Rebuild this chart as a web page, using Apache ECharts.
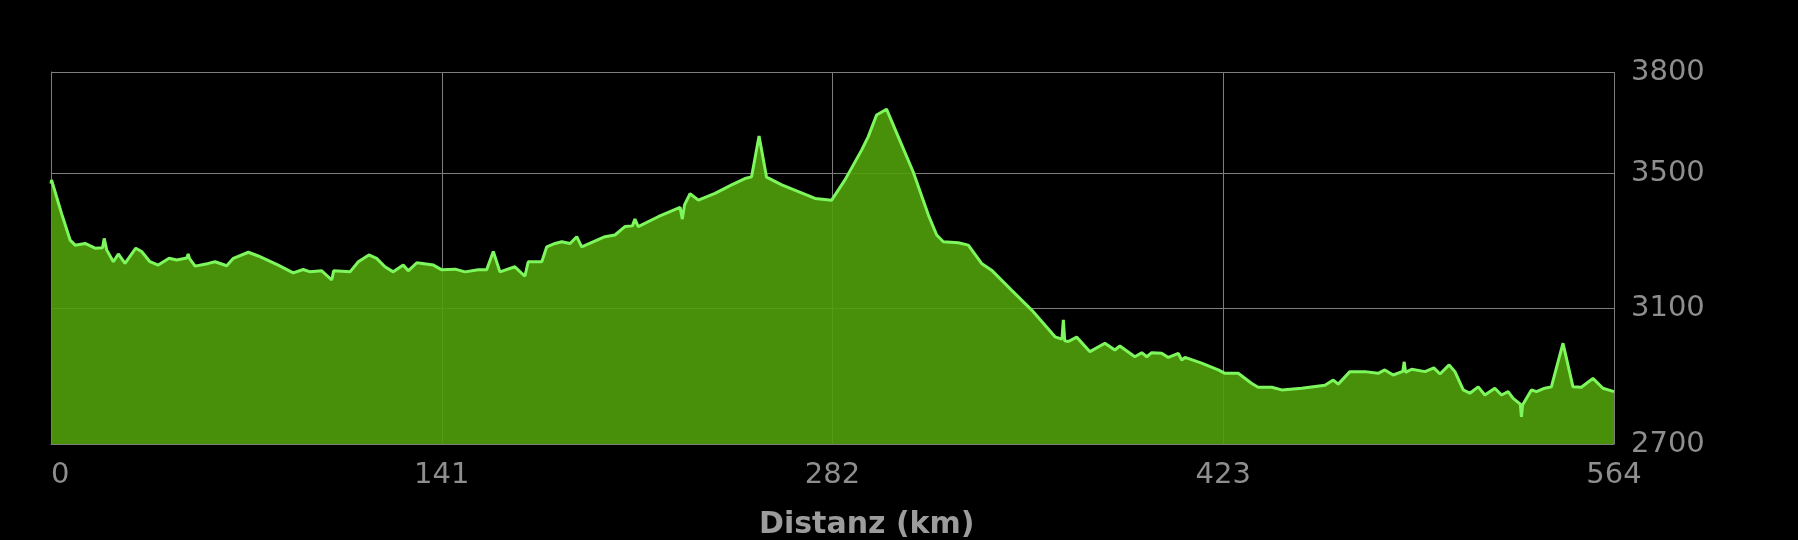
<!DOCTYPE html>
<html>
<head>
<meta charset="utf-8">
<script src="https://cdn.jsdelivr.net/npm/echarts@6/dist/echarts.min.js"></script>
<style>
html,body{margin:0;padding:0;background:#000;}
#chart{width:1798px;height:540px;}
</style>
</head>
<body>
<div id="chart"></div>
<script>
// Distance along route (km)
const distanceKm = [0, 0.2, 2.0, 3.8, 6.9, 8.7, 12.3, 15.9, 18.6, 19.2, 20.1, 22.5, 24.3, 26.7, 30.6, 32.7, 35.7, 38.7, 42.6, 45.4, 49.0, 49.5, 50.0, 52.0, 56.8, 59.2, 63.4, 65.8, 71.2, 74.8, 82.0, 87.4, 91.0, 93.5,
  97.7, 101.3, 102.0, 107.9, 110.9, 114.7, 117.5, 120.5, 123.5, 127.1, 128.9, 132.0, 138.0, 141.0, 145.8, 149.4, 154.2, 157.2, 159.6, 162.0, 167.4, 171.0, 172.2, 177.1, 178.9, 181.9, 184.3, 187.3,
  189.7, 191.5, 199.9, 203.5, 207.1, 209.8, 210.7, 211.9, 219.1, 227.0, 227.8, 228.6, 230.6, 233.6, 239.6, 245.6, 250.4, 252.8, 255.5, 258.2, 263.7, 269.7, 275.7, 281.7,
  286.5, 292.5, 294.9, 297.9, 301.5, 305.7, 311.1, 316.6, 319.6, 322.0, 327.4, 331.0, 335.8, 339.4, 346.6, 353.9, 362.3, 364.8, 365.3, 365.8, 367.1, 370.1, 374.9,
  380.3, 383.9, 385.7, 391.1, 393.6, 395.4, 397.2, 400.8, 403.2, 406.8, 408.0, 409.2, 415.2, 421.2, 423.6, 428.4, 433.3, 435.6, 440.5, 444.1, 451.3, 459.7, 462.7, 464.5, 468.7,
  474.1, 478.9, 481.3, 484.3, 487.8, 488.3, 488.8, 491.0, 495.8, 499.0, 501.2, 504.5, 506.6, 509.6, 512.0, 515.0, 517.4, 521.0, 523.4, 525.8, 527.6, 530.2, 530.6, 531.0, 534.2, 536.0, 539.0, 541.4, 545.6, 549.2, 552.2, 556.4, 560.0, 564];

// Elevation (m)
const elevationM = [3470, 3481, 3431, 3382, 3303, 3288, 3293, 3279, 3280, 3308, 3274, 3239, 3262, 3234, 3279, 3269, 3239, 3229, 3249, 3244, 3250, 3262, 3248, 3226, 3234, 3239, 3227, 3249, 3267, 3256, 3229, 3206, 3216, 3209,
  3212, 3185, 3212, 3209, 3239, 3259, 3249, 3224, 3209, 3229, 3212, 3236, 3229, 3215, 3217, 3209, 3215, 3215, 3269, 3209, 3224, 3196, 3239, 3239, 3283, 3293, 3298, 3293,
  3313, 3283, 3313, 3318, 3343, 3345, 3365, 3343, 3372, 3400, 3365, 3407, 3440, 3421, 3441, 3466, 3485, 3490, 3611, 3489, 3466, 3446, 3426, 3421,
  3481, 3569, 3609, 3673, 3690, 3609, 3505, 3377, 3318, 3298, 3295, 3288, 3234, 3214, 3155, 3096, 3017, 3010, 3067, 3005, 3003, 3016, 2973,
  2998, 2978, 2990, 2958, 2970, 2958, 2970, 2968, 2956, 2968, 2948, 2956, 2939, 2919, 2909, 2909, 2879, 2868, 2868, 2860, 2865, 2874, 2889, 2877, 2914,
  2914, 2909, 2919, 2904, 2915, 2943, 2912, 2921, 2914, 2925, 2907, 2934, 2914, 2860, 2850, 2869, 2845, 2865, 2845, 2855, 2835, 2818, 2780, 2815, 2860, 2855, 2865, 2869, 2998, 2869, 2868, 2894, 2865, 2855];

const xTicks = [0, 141, 282, 423, 564];
const yTicks = [2700, 3100, 3500, 3800];
const xAxisTitle = 'Distanz (km)';

const points = distanceKm.map((d, i) => [d, elevationM[i]]);

const chart = echarts.init(document.getElementById('chart'), null, {renderer: 'canvas'});
const gridColor = '#7d7d7d';
const labelColor = '#8e8e8e';

chart.setOption({
  backgroundColor: '#000',
  animation: false,
  title: {
    text: xAxisTitle,
    left: 759,
    top: 510,
    padding: 0,
    textStyle: {
      color: '#9c9c9c',
      fontFamily: 'DejaVu Sans',
      fontWeight: 'bold',
      fontSize: 30
    }
  },
  grid: {left: 51, right: 184, top: 72, bottom: 96, containLabel: false},
  xAxis: {
    type: 'value',
    min: xTicks[0],
    max: xTicks[xTicks.length - 1],
    interval: xTicks[1] - xTicks[0],
    axisLine: {show: true, lineStyle: {color: gridColor, width: 1}},
    axisTick: {show: false},
    splitLine: {show: true, lineStyle: {color: gridColor, width: 1}},
    axisLabel: {
      color: labelColor,
      fontFamily: 'DejaVu Sans',
      fontSize: 29,
      margin: 17,
      alignMinLabel: 'left',
      alignMaxLabel: 'center',
      showMinLabel: true,
      showMaxLabel: true,
      formatter: v => String(v)
    }
  },
  yAxis: {
    type: 'value',
    position: 'right',
    min: yTicks[0],
    max: yTicks[yTicks.length - 1],
    axisLine: {show: true, lineStyle: {color: gridColor, width: 1}},
    axisTick: {show: false, customValues: yTicks},
    splitLine: {show: true, lineStyle: {color: gridColor, width: 1}},
    axisLabel: {
      customValues: yTicks,
      color: labelColor,
      fontFamily: 'DejaVu Sans',
      fontSize: 29,
      margin: 17,
      showMinLabel: true,
      showMaxLabel: true,
      formatter: v => String(v)
    }
  },
  series: [{
    type: 'line',
    data: points,
    showSymbol: false,
    symbol: 'none',
    smooth: false,
    lineStyle: {color: '#7ef75e', width: 3},
    areaStyle: {color: 'rgb(80,160,10)', opacity: 0.9, origin: 'start'}
  }]
});
</script>
</body>
</html>
